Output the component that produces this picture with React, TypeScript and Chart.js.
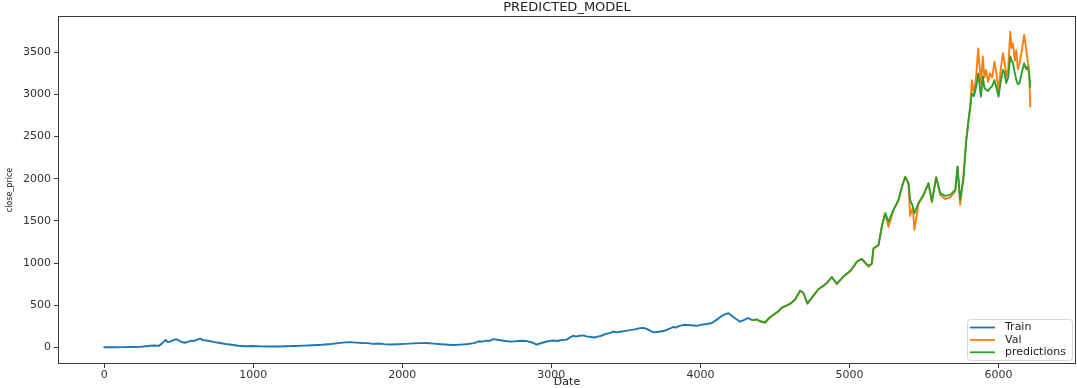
import React, { useEffect, useRef } from "react";
import { Chart, registerables } from "chart.js";

Chart.register(...registerables);

// Closing price of the training period (day index -> price)
const trainDays = [
  0, 60, 120, 180, 240, 280, 310, 340, 365, 385, 400, 412, 425, 445, 465, 482, 500, 520, 540, 560,
  585, 605, 625, 645, 662, 685, 710, 740, 775, 815, 855, 900, 950, 1000, 1050, 1100, 1160, 1220, 1280, 1340,
  1400, 1460, 1520, 1570, 1615, 1650, 1690, 1730, 1770, 1800, 1840, 1880, 1920, 1970, 2020, 2073, 2120, 2164, 2210, 2260,
  2310, 2345, 2390, 2440, 2480, 2515, 2540, 2560, 2585, 2611, 2640, 2680, 2723, 2760, 2800, 2835, 2870, 2902, 2935, 2970,
  3012, 3040, 3060, 3103, 3130, 3150, 3165, 3180, 3215, 3235, 3255, 3290, 3310, 3330, 3372, 3395, 3416, 3440, 3461, 3500,
  3528, 3560, 3595, 3617, 3640, 3668, 3685, 3720, 3752, 3790, 3819, 3840, 3855, 3886, 3909, 3940, 3976, 4010, 4043, 4070,
  4087, 4115, 4144, 4165, 4188, 4205, 4225, 4250, 4266, 4290, 4311, 4322, 4340, 4354,
];
const trainClose = [
  1, 2, 3, 4, 6, 14, 20, 22, 18, 42, 68, 90, 62, 72, 86, 98, 84, 64, 55, 66,
  80, 76, 92, 104, 86, 82, 74, 62, 52, 40, 32, 20, 14, 16, 12, 10, 11, 14, 17, 21,
  25, 31, 40, 50, 60, 63, 57, 52, 50, 42, 46, 39, 35, 38, 42, 48, 50, 52, 44, 37,
  31, 28, 33, 40, 50, 72, 68, 80, 76, 98, 90, 78, 68, 72, 79, 75, 58, 34, 52, 70,
  82, 76, 85, 92, 125, 138, 128, 135, 142, 130, 126, 117, 128, 135, 162, 172, 188, 178, 186, 196,
  204, 214, 228, 232, 220, 192, 178, 186, 194, 218, 242, 236, 252, 268, 265, 262, 256, 270, 278, 286,
  300, 335, 375, 392, 405, 385, 355, 325, 305, 322, 340, 348, 330, 324,
];

// Validation period: actual closing price and model prediction
const validDays = [
  4354, 4380, 4401, 4434, 4467, 4490, 4523, 4546, 4568, 4602, 4635, 4669, 4691, 4718, 4747, 4792, 4820, 4848, 4882, 4915,
  4940, 4960, 5004, 5030, 5050, 5072, 5083, 5117, 5128, 5150, 5161, 5195, 5217, 5240, 5262, 5295, 5329, 5352, 5374, 5396,
  5407, 5425, 5436, 5463, 5497, 5530, 5553, 5582, 5609, 5642, 5676, 5710, 5725, 5743, 5765, 5783, 5799, 5810, 5821, 5835,
  5850, 5864, 5882, 5895, 5905, 5917, 5930, 5944, 5958, 5973, 5986, 6000, 6015, 6030, 6041, 6052, 6065, 6079, 6088, 6097,
  6110, 6119, 6130, 6141, 6155, 6172, 6185, 6195, 6205, 6213,
];
const validClose = [
  324, 330, 305, 292, 355, 385, 425, 470, 485, 515, 565, 675, 645, 515, 585, 690, 720, 760, 835, 750,
  800, 840, 900, 960, 1015, 1040, 1045, 975, 955, 990, 1170, 1210, 1430, 1590, 1430, 1625, 1745, 1900, 2025, 1945,
  1560, 1660, 1395, 1700, 1800, 1945, 1720, 2020, 1810, 1760, 1780, 1850, 2140, 1690, 2050, 2450, 2700, 2850, 3170, 3000,
  3210, 3545, 3130, 3450, 3200, 3290, 3150, 3250, 3200, 3390, 3250, 3050, 3300, 3490, 3380, 3210, 3300, 3745, 3550, 3605,
  3400, 3525, 3300, 3370, 3500, 3705, 3550, 3410, 3300, 2855,
];
const predictedClose = [
  325, 332, 310, 298, 358, 388, 428, 472, 488, 518, 568, 672, 648, 525, 588, 692, 725, 765, 832, 758,
  802, 842, 905, 962, 1018, 1042, 1048, 985, 970, 992, 1175, 1215, 1435, 1592, 1490, 1630, 1750, 1905, 2020, 1950,
  1750, 1672, 1590, 1711, 1810, 1948, 1735, 2015, 1830, 1797, 1809, 1868, 2145, 1750, 2000, 2440, 2690, 2840, 3010, 2980,
  3090, 3250, 2975, 3210, 3080, 3055, 3040, 3075, 3100, 3170, 3080, 2975, 3150, 3290, 3250, 3135, 3200, 3450, 3400, 3370,
  3250, 3175, 3120, 3135, 3250, 3370, 3300, 3330, 3250, 3090,
];

const xTickValues = [0, 1000, 2000, 3000, 4000, 5000, 6000];
const yTickValues = [0, 500, 1000, 1500, 2000, 2500, 3000, 3500];

const seriesLabels = ["Train", "Val", "predictions"];
const seriesColors = ["#1f77b4", "#ff7f0e", "#2ca02c"];

const chartTitle = "PREDICTED_MODEL";
const xTitle = "Date";
const yTitle = "close_price";

const FONT = '"DejaVu Sans", sans-serif';

const toPoints = (xs: number[], ys: number[]) => xs.map((x, i) => ({ x, y: ys[i] }));

// Frame, titles and the lower-right legend, drawn like a matplotlib figure
const figureDecor = {
  id: "figureDecor",
  afterDraw(chart: any) {
    const { ctx, chartArea: a } = chart;
    ctx.save();
    ctx.strokeStyle = "#3a3a3a";
    ctx.lineWidth = 1;
    ctx.strokeRect(a.left + 0.5, a.top + 0.5, a.right - a.left - 1, a.bottom - a.top - 1);

    const cx = (a.left + a.right) / 2;
    ctx.fillStyle = "#222";
    ctx.textAlign = "center";
    ctx.textBaseline = "middle";
    ctx.font = `13px ${FONT}`;
    ctx.fillText(chartTitle, cx, 8);
    ctx.font = `11px ${FONT}`;
    ctx.fillText(xTitle, cx, 382);

    ctx.save();
    ctx.translate(10, (a.top + a.bottom) / 2);
    ctx.rotate(-Math.PI / 2);
    ctx.font = `8px ${FONT}`;
    ctx.fillText(yTitle, 0, 0);
    ctx.restore();

    // legend box
    const w = 105;
    const h = 41;
    const bx = a.right - 4 - w;
    const by = a.bottom - 4 - h;
    ctx.beginPath();
    ctx.roundRect(bx + 0.5, by + 0.5, w, h, 3);
    ctx.fillStyle = "rgba(255,255,255,0.85)";
    ctx.fill();
    ctx.strokeStyle = "#d6d6d6";
    ctx.stroke();
    ctx.font = `11px ${FONT}`;
    ctx.textAlign = "left";
    seriesLabels.forEach((label, i) => {
      const y = by + 8.5 + i * 12.4;
      ctx.strokeStyle = seriesColors[i];
      ctx.lineWidth = 1.8;
      ctx.beginPath();
      ctx.moveTo(bx + 3, y);
      ctx.lineTo(bx + 28, y);
      ctx.stroke();
      ctx.fillStyle = "#222";
      ctx.fillText(label, bx + 38, y);
    });
    ctx.restore();
  },
};

export default function App() {
  const canvasRef = useRef<HTMLCanvasElement | null>(null);

  useEffect(() => {
    if (!canvasRef.current) return;
    const tickFont = { family: FONT, size: 11 };
    const chart = new Chart(canvasRef.current, {
      type: "line",
      data: {
        datasets: [
          {
            label: seriesLabels[0],
            data: toPoints(trainDays, trainClose),
            borderColor: seriesColors[0],
            order: 2,
          },
          {
            label: seriesLabels[1],
            data: toPoints(validDays, validClose),
            borderColor: seriesColors[1],
            order: 1,
          },
          {
            label: seriesLabels[2],
            data: toPoints(validDays, predictedClose),
            borderColor: seriesColors[2],
            order: 0,
          },
        ],
      },
      options: {
        animation: false,
        responsive: false,
        events: [],
        layout: { padding: { top: 16, right: 1, left: 0, bottom: 0 } },
        elements: {
          point: { radius: 0 },
          line: { borderWidth: 1.9, tension: 0, borderCapStyle: "round", borderJoinStyle: "round" },
        },
        plugins: {
          legend: { display: false },
          title: { display: false },
          tooltip: { enabled: false },
        },
        scales: {
          x: {
            type: "linear",
            min: -310,
            max: 6520,
            afterBuildTicks: (s: any) => {
              s.ticks = xTickValues.map((value) => ({ value }));
            },
            afterFit: (s: any) => {
              s.height = 24;
            },
            grid: { display: true, drawOnChartArea: false, drawTicks: true, tickLength: 4, color: "#3a3a3a" },
            border: { display: false },
            ticks: { font: tickFont, color: "#333", padding: 1, maxRotation: 0, callback: (v: any) => String(v) },
          },
          y: {
            type: "linear",
            min: -197,
            max: 3930,
            afterBuildTicks: (s: any) => {
              s.ticks = yTickValues.map((value) => ({ value }));
            },
            afterFit: (s: any) => {
              s.width = 58;
            },
            grid: { display: true, drawOnChartArea: false, drawTicks: true, tickLength: 4, color: "#3a3a3a" },
            border: { display: false },
            ticks: { font: tickFont, color: "#333", padding: 3, callback: (v: any) => String(v) },
          },
        },
      },
      plugins: [figureDecor],
    });
    return () => chart.destroy();
  }, []);

  return (
    <div style={{ position: "fixed", left: 0, top: 0, width: 1077, height: 388, background: "#fff" }}>
      <canvas ref={canvasRef} width={1077} height={388} style={{ display: "block" }} />
    </div>
  );
}
